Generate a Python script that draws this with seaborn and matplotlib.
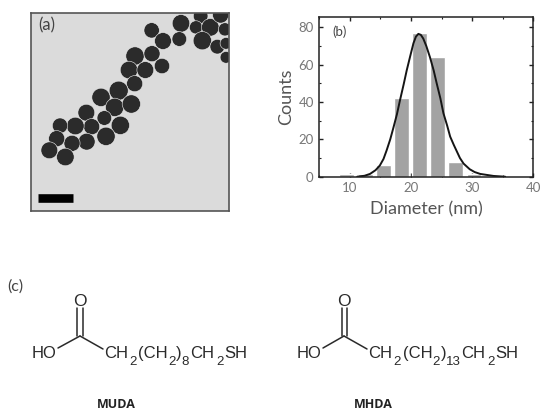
import seaborn as sns
import matplotlib.pyplot as plt
import pandas as pd
from matplotlib.ticker import MultipleLocator

# histogram (b)
diam_centers = [9.47, 12.5, 15.47, 18.44, 21.4, 24.36, 27.3, 30.3]
diam_counts = [1.3, 1.3, 6, 42, 77, 64, 8, 1.3]
fit_x = [11.2, 12.4, 13.3, 14.2, 14.9, 15.5, 16.0, 16.6, 17.1, 17.7, 18.2, 18.8, 19.3, 19.9, 20.4, 20.8, 21.2,
         21.6, 22.0, 22.5, 23.1, 23.7, 24.2, 24.8, 25.3, 25.9, 26.4, 27.0, 27.5, 28.0, 28.6, 29.6, 30.4, 31.3, 33.5, 35.4]
fit_y = [0, 0.5, 1.5, 3.5, 6, 9.5, 14, 20, 26, 33.5, 41, 49.5, 57, 65, 71.5, 75, 76.5,
         76, 74, 70, 64, 57, 50, 42, 34, 27.5, 21.5, 17, 13.5, 10, 7, 4, 2.5, 1.5, 0.4, 0]

# particles of the micrograph (a), position and radius in image pixels
part_x = [455, 489, 543, 538, 602, 588, 631, 662, 675, 607, 652, 678, 678, 405, 456, 486, 387, 436, 404, 356,
          303, 344, 394, 259, 313, 361, 275, 226, 180, 318, 260, 216, 170, 148, 196]
part_y = [91, 123, 70, 117, 48, 82, 82, 45, 88, 122, 140, 130, 172, 168, 161, 198, 210, 210, 251, 272,
          292, 322, 312, 338, 354, 376, 380, 378, 377, 409, 425, 430, 416, 451, 471]
part_r = [21, 23, 24, 20, 20, 18, 24, 22, 18, 25, 20, 16, 16, 25, 22, 21, 24, 23, 22, 26,
          25, 25, 25, 23, 20, 25, 22, 24, 21, 25, 23, 22, 22, 23, 24]

# bonds of the two molecules (c), page pixels
muda_bonds_x = [[58, 80], [80, 103], [77, 77], [83, 83]]
muda_bonds_y = [[348, 336], [336, 349], [336, 308], [336, 308]]
mhda_bonds_x = [[323, 344], [344, 367], [342, 342], [347, 347]]
mhda_bonds_y = [[348, 336], [336, 349], [336, 308], [336, 308]]

# formula pieces (text, left edge in page pixels)
muda_main = [('HO', 32), ('CH', 104), ('(CH', 138), (')', 176), ('CH', 190), ('SH', 224)]
muda_subs = [('2', 129), ('2', 168), ('8', 181), ('2', 216)]
mhda_main = [('HO', 297), ('CH', 368), ('(CH', 403), (')', 441), ('CH', 461), ('SH', 495)]
mhda_subs = [('2', 393), ('2', 432), ('13', 446), ('2', 487)]

sns.set_theme(style="white")
plt.rcParams['font.family'] = ['Lato', 'DejaVu Sans']

W, H = 550, 418
fig = plt.figure(figsize=(W / 100, H / 100), dpi=100)


def px_axes(l, t, r, b):
    return fig.add_axes([l / W, 1 - b / H, (r - l) / W, (b - t) / H])


# page layer for the chemistry
page = fig.add_axes([0, 0, 1, 1])
page.set_xlim(0, W)
page.set_ylim(H, 0)
page.axis('off')

for xs, ys in zip(muda_bonds_x + mhda_bonds_x, muda_bonds_y + mhda_bonds_y):
    page.plot(xs, ys, color='#2a2a2a', lw=1.1)

for label, x in muda_main + mhda_main:
    page.text(x, 358, label, family='Liberation Sans', fontsize=12, color='#2a2a2a')
for label, x in muda_subs + mhda_subs:
    page.text(x, 365, label, family='Liberation Sans', fontsize=9.5, color='#2a2a2a')
page.text(80, 306, 'O', ha='center', family='Liberation Sans', fontsize=12.5, color='#2a2a2a')
page.text(344, 306, 'O', ha='center', family='Liberation Sans', fontsize=12.5, color='#2a2a2a')
page.text(116, 408, 'MUDA', ha='center', family='Open Sans', fontsize=9, fontweight='bold', color='#222222')
page.text(373, 408, 'MHDA', ha='center', family='Open Sans', fontsize=9, fontweight='bold', color='#222222')
page.text(7, 291, '(c)', fontsize=11.5, color='#444444')

# micrograph (a)
ax_a = px_axes(30.7, 12.7, 229.3, 211.3)
ax_a.set_facecolor('#dbdbdb')
particles = pd.DataFrame({'x': part_x, 'y': part_y})
sizes = [(2.2 * r / 3 * 0.72) ** 2 for r in part_r]
sns.scatterplot(data=particles, x='x', y='y', s=sizes, color='#2b2b2b', edgecolor='#eeeeee', linewidth=0.4, ax=ax_a, legend=False)
ax_a.set_xlim(92, 688)
ax_a.set_ylim(634, 38)
ax_a.set_xticks([])
ax_a.set_yticks([])
ax_a.set_xlabel('')
ax_a.set_ylabel('')
for s in ax_a.spines.values():
    s.set_color('#555555')
    s.set_linewidth(1.2)
ax_a.text(116, 90, '(a)', fontsize=12, color='#444444')
scale_x = [115, 219]
scale_y = [594, 594]
ax_a.plot(scale_x, scale_y, color='black', lw=6.2, solid_capstyle='butt')

# histogram (b)
ax_b = px_axes(319.3, 16.7, 533.3, 176.7)
hist = pd.DataFrame({'d': diam_centers, 'n': diam_counts})
sns.barplot(data=hist, x='d', y='n', native_scale=True, width=0.82, color='#a3a3a3', saturation=1, ax=ax_b)
sns.lineplot(x=fit_x, y=fit_y, color='#151515', lw=1.4, ax=ax_b, sort=False)
ax_b.set_xlim(5, 40)
ax_b.set_ylim(0, 85.7)
ax_b.set_xticks([10, 20, 30, 40])
ax_b.set_yticks([0, 20, 40, 60, 80])
ax_b.xaxis.set_minor_locator(MultipleLocator(5))
ax_b.yaxis.set_minor_locator(MultipleLocator(10))
ax_b.tick_params(which='major', direction='in', length=3, width=1, top=True, right=True, bottom=True, left=True,
                 labelsize=9.5, labelcolor='#777777', color='#222222', pad=4)
ax_b.tick_params(which='minor', direction='in', length=1.5, width=0.8, top=True, right=True, bottom=True, left=True, color='#222222')
ax_b.set_xlabel('Diameter (nm)', fontsize=13, color='#555555', labelpad=5)
ax_b.set_ylabel('Counts', fontsize=13, color='#555555', labelpad=3)
for s in ax_b.spines.values():
    s.set_color('#222222')
    s.set_linewidth(1.1)
ax_b.text(7.1, 75.5, '(b)', fontsize=9.5, color='#444444')

fig.savefig('out.png', dpi=100)
